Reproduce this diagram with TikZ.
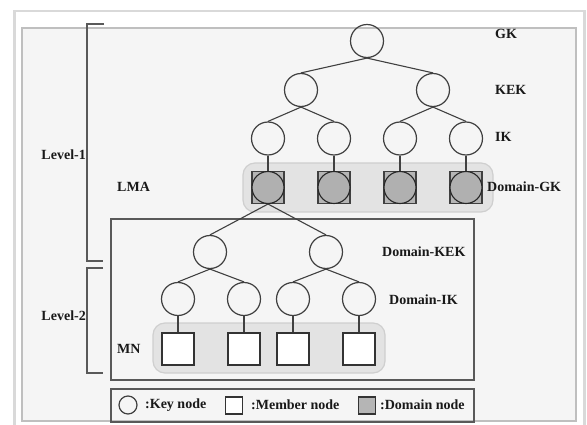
\documentclass[tikz,border=0pt]{standalone}
\usepackage{fontspec}
\setmainfont{Liberation Serif}
\begin{document}
\begin{tikzpicture}[x=1pt,y=-1pt,
  keynode/.style={circle, draw=black!75, line width=1.2pt, minimum size=33pt, inner sep=0pt},
  memnode/.style={rectangle, draw=black!80, line width=1.3pt, minimum size=32pt, inner sep=0pt, fill=white},
  domsq/.style={rectangle, draw=black!75, line width=1.1pt, minimum size=32pt, inner sep=0pt, fill=gray!58},
  domci/.style={circle, draw=black!85, line width=1.1pt, minimum size=32pt, inner sep=0pt, fill=gray!62},
  lbl/.style={font=\fontsize{14}{16}\selectfont\bfseries, inner sep=0pt, text=black!90},
  band/.style={rounded corners=12pt, fill=gray!22, draw=gray!38, line width=1.2pt},
  conn/.style={draw=black!75, line width=1.1pt},
  boxline/.style={draw=black!65, line width=1.2pt}]
\useasboundingbox (0,0) rectangle (587,425);
% frame
\fill[gray!30] (13,10) rectangle (586,425);
\fill[white] (16,12) rectangle (583,425);
\fill[gray!8] (22,28) rectangle (576,421);
\draw[gray!50, line width=1.6pt] (22,421) -- (22,28) -- (576,28) -- (576,421) -- cycle;
% bands
\draw[band] (243,163) rectangle (493,212);
\draw[band] (153,323) rectangle (385,373);
% boxes
\draw[boxline] (111,219) rectangle (474,380);
\draw[boxline] (111,389) rectangle (474,422);
% brackets
\draw[boxline] (104,24) -- (87,24) -- (87,261) -- (103,261);
\draw[boxline] (103,268) -- (87,268) -- (87,373) -- (103,373);
% level 1 tree
\node[keynode] (gk) at (367,41) {};
\node[keynode] (k1) at (301,90) {};
\node[keynode] (k2) at (433,90) {};
\node[keynode] (i1) at (268,138.5) {};
\node[keynode] (i2) at (334,138.5) {};
\node[keynode] (i3) at (400,138.5) {};
\node[keynode] (i4) at (466,138.5) {};
\foreach \n/\x in {d1/268,d2/334,d3/400,d4/466}{
  \node[domsq] (\n) at (\x,187.5) {};
  \node[domci] (\n c) at (\x,187.5) {};
}
\draw[conn] (gk.south) -- (k1.north);
\draw[conn] (gk.south) -- (k2.north);
\draw[conn] (k1.south) -- (i1.north);
\draw[conn] (k1.south) -- (i2.north);
\draw[conn] (k2.south) -- (i3.north);
\draw[conn] (k2.south) -- (i4.north);
\draw[conn] (i1.south) -- (d1.north);
\draw[conn] (i2.south) -- (d2.north);
\draw[conn] (i3.south) -- (d3.north);
\draw[conn] (i4.south) -- (d4.north);
% level 2 tree
\node[keynode] (dk1) at (210,252) {};
\node[keynode] (dk2) at (326,252) {};
\node[keynode] (di1) at (178,299) {};
\node[keynode] (di2) at (244,299) {};
\node[keynode] (di3) at (293,299) {};
\node[keynode] (di4) at (359,299) {};
\node[memnode] (m1) at (178,349) {};
\node[memnode] (m2) at (244,349) {};
\node[memnode] (m3) at (293,349) {};
\node[memnode] (m4) at (359,349) {};
\draw[conn] (d1.south) -- (dk1.north);
\draw[conn] (d1.south) -- (dk2.north);
\draw[conn] (dk1.south) -- (di1.north);
\draw[conn] (dk1.south) -- (di2.north);
\draw[conn] (dk2.south) -- (di3.north);
\draw[conn] (dk2.south) -- (di4.north);
\draw[conn] (di1.south) -- (m1.north);
\draw[conn] (di2.south) -- (m2.north);
\draw[conn] (di3.south) -- (m3.north);
\draw[conn] (di4.south) -- (m4.north);
% labels
\node[lbl, anchor=west] (lgk) at (495,34) {GK};
\node[lbl, anchor=west] (lkek) at (495,90) {KEK};
\node[lbl, anchor=west] (lik) at (495,137) {IK};
\node[lbl, anchor=west] (ldgk) at (487,187) {Domain-GK};
\node[lbl, anchor=west] (llma) at (117,187) {LMA};
\node[lbl, anchor=west] (ldkek) at (382,252) {Domain-KEK};
\node[lbl, anchor=west] (ldik) at (389,300) {Domain-IK};
\node[lbl, anchor=west] (lmn) at (117,349) {MN};
\node[lbl, anchor=east] (lv1) at (86,155) {Level-1};
\node[lbl, anchor=east] (lv2) at (86,316) {Level-2};
% legend
\node[circle, draw=black!75, line width=1.2pt, minimum size=18pt, inner sep=0pt] (lgc) at (128,405) {};
\node[lbl, anchor=west] (lgct) at (145,405) {:Key node};
\node[rectangle, draw=black!80, line width=1.2pt, minimum size=17pt, inner sep=0pt, fill=white] (lgm) at (234,405.5) {};
\node[lbl, anchor=west] (lgmt) at (251,405) {:Member node};
\node[rectangle, draw=black!80, line width=1.2pt, minimum size=17pt, inner sep=0pt, fill=gray!58] (lgd) at (367,405.5) {};
\node[lbl, anchor=west] (lgdt) at (380,405) {:Domain node};
\end{tikzpicture}
\end{document}
